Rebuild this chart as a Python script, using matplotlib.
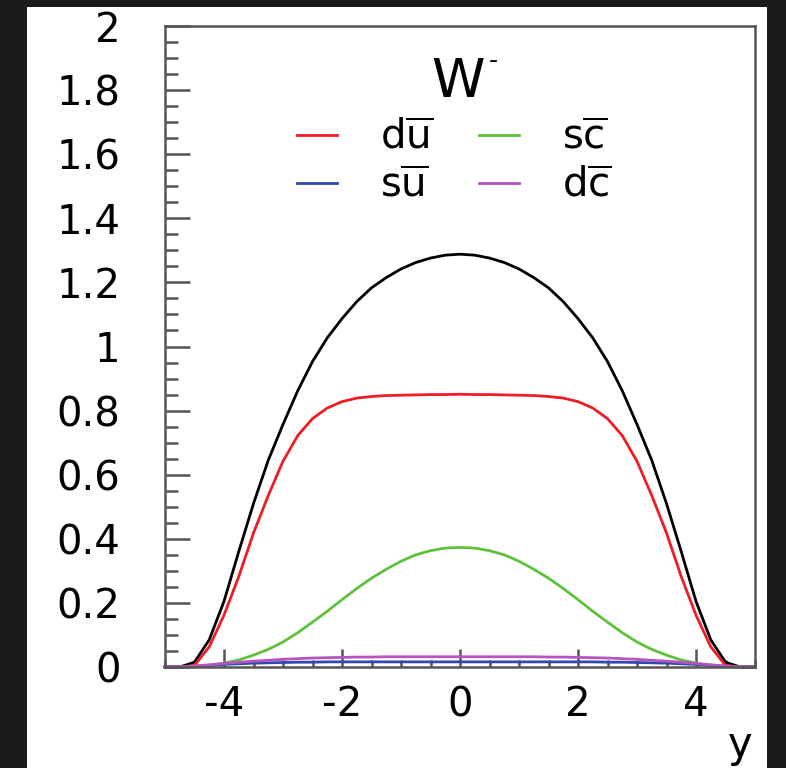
import numpy as np
import matplotlib
matplotlib.use('Agg')
import matplotlib.pyplot as plt
from matplotlib.patches import Rectangle

plt.rcParams['font.family'] = 'DejaVu Sans'
plt.rcParams['mathtext.fontset'] = 'dejavusans'
plt.rcParams['axes.unicode_minus'] = False

# rapidity grid, step 0.25
y_rap = np.linspace(-5, 5, 41)

total = [0, 0, 0.015, 0.085, 0.205, 0.36, 0.51, 0.645, 0.757, 0.862, 0.953,
         1.027, 1.087, 1.14, 1.183, 1.215, 1.242, 1.262, 1.276, 1.285, 1.288,
         1.285, 1.276, 1.262, 1.242, 1.215, 1.183, 1.14, 1.087, 1.027, 0.953,
         0.862, 0.757, 0.645, 0.51, 0.36, 0.205, 0.085, 0.015, 0, 0]
d_ubar = [0, 0, 0.005, 0.063, 0.162, 0.282, 0.418, 0.535, 0.642, 0.722, 0.775,
          0.808, 0.828, 0.839, 0.844, 0.847, 0.848, 0.849, 0.85, 0.85, 0.851,
          0.85, 0.85, 0.849, 0.848, 0.847, 0.844, 0.839, 0.828, 0.808, 0.775,
          0.722, 0.642, 0.535, 0.418, 0.282, 0.162, 0.063, 0.005, 0, 0]
s_cbar = [0, 0, 0.001, 0.004, 0.012, 0.022, 0.037, 0.055, 0.078, 0.107, 0.14,
          0.174, 0.21, 0.245, 0.277, 0.305, 0.33, 0.35, 0.363, 0.371, 0.373,
          0.371, 0.363, 0.35, 0.33, 0.305, 0.277, 0.245, 0.21, 0.174, 0.14,
          0.107, 0.078, 0.055, 0.037, 0.022, 0.012, 0.004, 0.001, 0, 0]
s_ubar = [0, 0, 0.002, 0.005, 0.008, 0.01, 0.012, 0.013, 0.014, 0.015, 0.015,
          0.016, 0.016, 0.016, 0.016, 0.016, 0.016, 0.016, 0.016, 0.016, 0.016,
          0.016, 0.016, 0.016, 0.016, 0.016, 0.016, 0.016, 0.016, 0.016, 0.015,
          0.015, 0.014, 0.013, 0.012, 0.01, 0.008, 0.005, 0.002, 0, 0]
d_cbar = [0, 0, 0.003, 0.007, 0.011, 0.015, 0.018, 0.021, 0.024, 0.026, 0.028,
          0.029, 0.03, 0.031, 0.031, 0.032, 0.032, 0.032, 0.032, 0.032, 0.032,
          0.032, 0.032, 0.032, 0.032, 0.032, 0.031, 0.031, 0.03, 0.029, 0.028,
          0.026, 0.024, 0.021, 0.018, 0.015, 0.011, 0.007, 0.003, 0, 0]

x_ticks = [-4, -2, 0, 2, 4]
y_ticks = [0, 0.2, 0.4, 0.6, 0.8, 1, 1.2, 1.4, 1.6, 1.8, 2]
y_ticklabels = ['0', '0.2', '0.4', '0.6', '0.8', '1', '1.2', '1.4', '1.6', '1.8', '2']

fig = plt.figure(figsize=(7.86, 7.68), dpi=100, facecolor='#1b1b1b')
# white slide panel behind the plot
fig.patches.append(Rectangle((27 / 786, 0), 740 / 786, 761 / 768,
                             transform=fig.transFigure, facecolor='white',
                             edgecolor='none', zorder=-10))

ax = fig.add_axes([165 / 786, 101 / 768, 590 / 786, 641 / 768])
ax.set_zorder(1)

ax.plot(y_rap, total, color='black', lw=2.0, clip_on=False)
l1, = ax.plot(y_rap, d_ubar, color='#f01c24', lw=2.0, clip_on=False)
l2, = ax.plot(y_rap, s_cbar, color='#5ec13c', lw=2.0, clip_on=False)
l3, = ax.plot(y_rap, s_ubar, color='#3247b0', lw=2.0, clip_on=False)
l4, = ax.plot(y_rap, d_cbar, color='#b455c0', lw=2.0, clip_on=False)

ax.set_xlim(-5, 5)
ax.set_ylim(0, 2)
ax.set_xticks(x_ticks)
ax.set_xticks(np.arange(-5, 5.01, 0.5), minor=True)
ax.set_yticks(y_ticks)
ax.set_yticklabels(y_ticklabels)
ax.set_yticks(np.arange(0, 2.001, 0.05), minor=True)

for s in ax.spines.values():
    s.set_color('#555555')
    s.set_linewidth(1.8)

ax.tick_params(axis='both', which='both', direction='in', colors='#555555',
               labelcolor='black', labelsize=29, width=1.8)
ax.tick_params(axis='y', which='major', length=18, pad=32)
ax.tick_params(axis='y', which='minor', length=9)
ax.tick_params(axis='x', which='major', length=13, pad=13)
ax.tick_params(axis='x', which='minor', length=5)

# W^- title inside the frame, with a short raised dash
ax.text(0.497, 0.889, 'W', transform=ax.transAxes,
        ha='center', va='baseline', fontsize=39)
ax.text(0.557, 0.935, '-', transform=ax.transAxes,
        ha='center', va='baseline', fontsize=18)

ax.legend([l1, l3, l2, l4],
          [r'$\mathregular{d\overline{u}}$', r'$\mathregular{s\overline{u}}$',
           r'$\mathregular{s\overline{c}}$', r'$\mathregular{d\overline{c}}$'],
          ncols=2, frameon=False, fontsize=29, loc='center',
          bbox_to_anchor=(0.49, 0.788), handlelength=1.0, handletextpad=1.05,
          columnspacing=1.15, labelspacing=0.2)

fig.text(752 / 786, 0.014, 'y', ha='right', va='baseline', fontsize=30)

plt.savefig('out.png', dpi=100, facecolor=fig.get_facecolor())
